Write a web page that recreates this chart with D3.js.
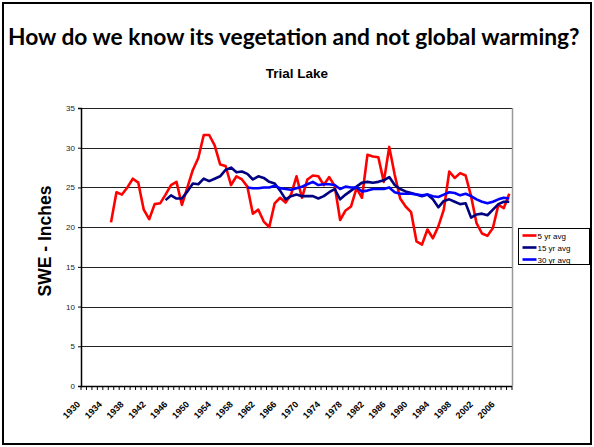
<!DOCTYPE html>
<html>
<head>
<meta charset="utf-8">
<script src="https://cdn.jsdelivr.net/npm/d3@7"></script>
<style>
  body { margin: 0; background: #fff; }
  svg { display: block; }
</style>
</head>
<body>
<script>
// categories on the x axis (one per year) and the labelled ones
var years = d3.range(1930, 2009);
var tickYears = [1930, 1934, 1938, 1942, 1946, 1950, 1954, 1958, 1962, 1966, 1970,
  1974, 1978, 1982, 1986, 1990, 1994, 1998, 2002, 2006];
var yTicks = [0, 5, 10, 15, 20, 25, 30, 35];

// 5 yr avg, starts 1935
var start5 = 1935;
var avg5 = [20.6, 24.4, 24.1, 25.0, 26.1, 25.6, 22.2, 21.0, 22.9, 23.0,
  24.1, 25.3, 25.7, 22.8, 25.0, 27.2, 28.7, 31.6, 31.6, 30.3,
  27.9, 27.7, 25.3, 26.4, 26.0, 25.1, 21.7, 22.2, 20.7, 20.0,
  23.0, 23.7, 23.1, 24.1, 26.4, 23.7, 26.0, 26.5, 26.4, 25.3,
  26.3, 25.2, 20.9, 22.1, 22.6, 24.9, 23.7, 29.1, 28.9, 28.8,
  25.7, 30.1, 26.6, 23.6, 22.6, 21.9, 18.2, 17.8, 19.7, 18.6,
  20.1, 22.2, 27.0, 26.2, 26.8, 26.5, 23.9, 20.5, 19.2, 18.9,
  19.9, 22.8, 22.4, 24.2];

// 15 yr avg, starts 1945
var start15 = 1945;
var avg15 = [23.4, 24.0, 23.6, 23.6, 24.5, 25.5, 25.4, 26.1, 25.8, 26.1,
  26.4, 27.2, 27.5, 26.9, 27.0, 26.7, 26.0, 26.4, 26.2, 25.7,
  25.5, 24.6, 23.5, 23.9, 24.1, 23.9, 23.9, 23.9, 23.6, 23.9,
  24.4, 24.8, 23.5, 24.1, 24.6, 25.1, 25.6, 25.7, 25.6, 25.7,
  25.9, 26.3, 25.3, 24.8, 24.5, 24.3, 24.1, 23.9, 24.1, 23.5,
  22.5, 23.3, 23.5, 23.2, 22.9, 23.0, 21.2, 21.6, 21.7, 21.5,
  22.2, 22.9, 23.2, 23.2];

// 30 yr avg, starts 1960
var start30 = 1960;
var avg30 = [25.0, 24.9, 24.9, 25.0, 25.0, 25.2, 24.9, 24.8, 24.7, 24.9,
  25.1, 25.4, 25.7, 25.3, 25.4, 25.4, 25.3, 24.8, 25.1, 25.0,
  25.0, 24.5, 24.6, 24.8, 24.8, 24.8, 25.0, 24.4, 24.2, 24.2,
  24.2, 24.1, 24.0, 24.1, 23.9, 23.8, 24.1, 24.4, 24.3, 24.0,
  24.2, 23.9, 23.5, 23.2, 23.0, 23.2, 23.5, 23.7, 23.6];

var seriesNames = ["5 yr avg", "15 yr avg", "30 yr avg"];
var seriesColors = ["#ff0000", "#000080", "#0000ff"];

var svgWidth = 594;
var svgHeight = 447;

var margin = {
  top: 108,
  right: 82,
  bottom: 61,
  left: 81
};

var width = svgWidth - margin.left - margin.right;
var height = svgHeight - margin.top - margin.bottom;

var svg = d3.select("body")
  .append("svg")
  .attr("width", svgWidth)
  .attr("height", svgHeight);

// slide frame
svg.append("rect")
  .attr("x", 3)
  .attr("y", 3)
  .attr("width", 588)
  .attr("height", 441)
  .attr("fill", "none")
  .attr("stroke", "#000")
  .attr("stroke-width", 2);

var title = svg.append("text")
  .attr("x", 8)
  .attr("y", 45)
  .attr("font-family", "Lato, 'Open Sans', sans-serif")
  .attr("font-weight", "bold")
  .attr("font-size", 21)
  .attr("fill", "#000")
  .text("How do we know its vegetation and not global warming?");
// squeeze the title to the slide width
var tw = title.node().getComputedTextLength();
title.attr("font-size", 21 * 572 / tw);

svg.append("text")
  .attr("x", 297)
  .attr("y", 78)
  .attr("text-anchor", "middle")
  .attr("font-family", "'Liberation Sans', Arial, sans-serif")
  .attr("font-weight", "bold")
  .attr("font-size", 13.5)
  .text("Trial Lake");

var chartGroup = svg.append("g")
  .attr("transform", `translate(${margin.left}, ${margin.top})`);

var xScale = d3.scaleBand()
  .domain(years)
  .range([0, width]);

var yScale = d3.scaleLinear()
  .domain([0, 35])
  .range([height, 0]);

// gridlines
chartGroup.append("g")
  .selectAll("line")
  .data(yTicks.slice(1))
  .enter()
  .append("line")
  .attr("x1", 0)
  .attr("x2", width)
  .attr("y1", d => Math.round(yScale(d)) + 0.5)
  .attr("y2", d => Math.round(yScale(d)) + 0.5)
  .attr("stroke", "#222")
  .attr("stroke-width", 1);

// right edge of plot area
chartGroup.append("line")
  .attr("x1", width + 0.5)
  .attr("x2", width + 0.5)
  .attr("y1", 0)
  .attr("y2", height)
  .attr("stroke", "#999")
  .attr("stroke-width", 1.5);

// y axis
var leftAxis = d3.axisLeft(yScale)
  .tickValues(yTicks)
  .tickSize(3)
  .tickPadding(3);

var yAxis = chartGroup.append("g")
  .call(leftAxis);
yAxis.select(".domain").attr("stroke", "#000").attr("stroke-width", 1.5);
yAxis.selectAll(".tick line").attr("stroke", "#000");
yAxis.selectAll("text")
  .attr("font-family", "'Liberation Sans', Arial, sans-serif")
  .attr("font-size", 8)
  .attr("fill", "#222");

// x axis: ticks on category boundaries
var xAxis = chartGroup.append("g")
  .attr("transform", `translate(0, ${height})`);

xAxis.append("line")
  .attr("x1", 0)
  .attr("x2", width)
  .attr("y1", 0.5)
  .attr("y2", 0.5)
  .attr("stroke", "#000")
  .attr("stroke-width", 1.5);

xAxis.selectAll(".xtick")
  .data(years.concat([2009]))
  .enter()
  .append("line")
  .attr("class", "xtick")
  .attr("x1", d => d == 2009 ? width : xScale(d))
  .attr("x2", d => d == 2009 ? width : xScale(d))
  .attr("y1", 0)
  .attr("y2", 4)
  .attr("stroke", "#000")
  .attr("stroke-width", 1);

xAxis.selectAll(".xlabel")
  .data(tickYears)
  .enter()
  .append("text")
  .attr("class", "xlabel")
  .attr("transform", d => `translate(${xScale(d) + xScale.bandwidth() / 2 - 3}, 19) rotate(-45)`)
  .attr("text-anchor", "end")
  .attr("font-family", "'Liberation Sans', Arial, sans-serif")
  .attr("font-weight", "bold")
  .attr("font-size", 9)
  .attr("fill", "#000")
  .text(d => d);

// y axis title
svg.append("text")
  .attr("transform", "translate(51, 241) rotate(-90)")
  .attr("text-anchor", "middle")
  .attr("font-family", "'Liberation Sans', Arial, sans-serif")
  .attr("font-weight", "bold")
  .attr("font-size", 17.5)
  .text("SWE - Inches");

// lines
var allSeries = [
  { start: start5, values: avg5 },
  { start: start15, values: avg15 },
  { start: start30, values: avg30 }
];

var line = d3.line()
  .x(d => xScale(d[0]) + xScale.bandwidth() / 2)
  .y(d => yScale(d[1]));

allSeries.forEach(function (s, i) {
  var pts = s.values.map((v, j) => [s.start + j, v]);
  chartGroup.append("path")
    .datum(pts)
    .attr("fill", "none")
    .attr("stroke", seriesColors[i])
    .attr("stroke-width", 2.6)
    .attr("stroke-linejoin", "round")
    .attr("d", line);
});

// legend
var legend = svg.append("g")
  .attr("transform", "translate(518.5, 228.5)");

legend.append("rect")
  .attr("width", 71)
  .attr("height", 36)
  .attr("fill", "#fff")
  .attr("stroke", "#000")
  .attr("stroke-width", 1);

seriesNames.forEach(function (name, i) {
  var yy = 7 + i * 12;
  legend.append("line")
    .attr("x1", 4)
    .attr("x2", 18)
    .attr("y1", yy)
    .attr("y2", yy)
    .attr("stroke", seriesColors[i])
    .attr("stroke-width", 2.6);
  legend.append("text")
    .attr("x", 19)
    .attr("y", yy + 3)
    .attr("font-family", "'Liberation Sans', Arial, sans-serif")
    .attr("font-size", 8)
    .attr("fill", "#000")
    .text(name);
});
</script>
</body>
</html>
